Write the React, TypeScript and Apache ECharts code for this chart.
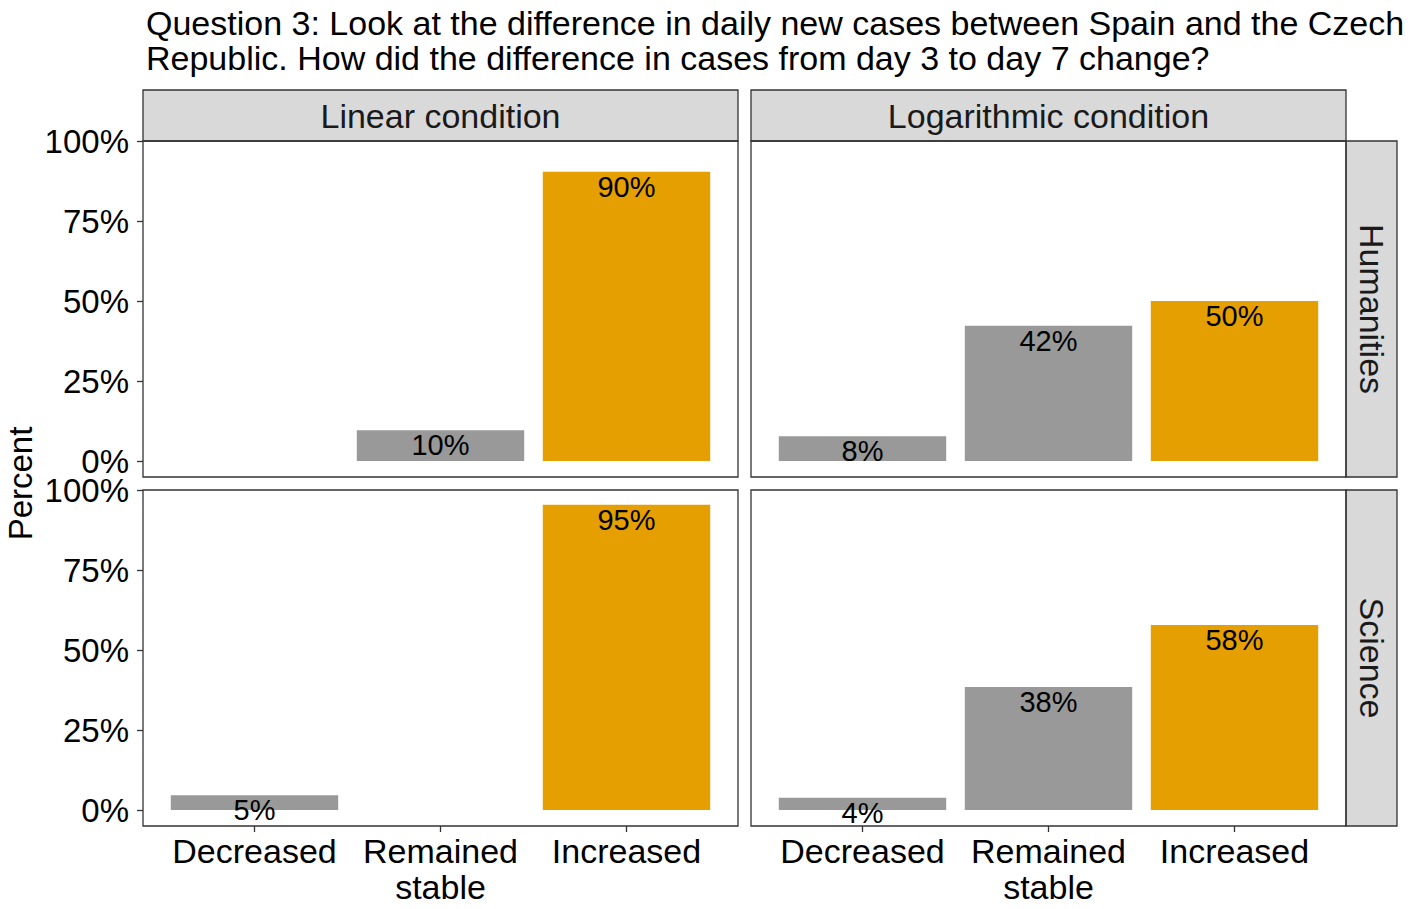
import React, { useEffect, useRef } from 'react';
import * as echarts from 'echarts';

const titleLines = [
  'Question 3: Look at the difference in daily new cases between Spain and the Czech',
  'Republic. How did the difference in cases from day 3 to day 7 change?',
];
const categories = ['Decreased', 'Remained\nstable', 'Increased'];
const conditions = ['Linear condition', 'Logarithmic condition'];
const groups = ['Humanities', 'Science'];
const linearHumanities = [null, 9.6, 90.4];
const logarithmicHumanities = [7.7, 42.3, 50.0];
const linearScience = [4.6, null, 95.4];
const logarithmicScience = [3.8, 38.4, 57.8];
const yTicks = [0, 25, 50, 75, 100];
const yAxisTitle = 'Percent';

const barColors = ['#999999', '#999999', '#E69F00'];
const FONT = "'Liberation Sans', Arial, sans-serif";

const PANEL_LEFT = [143, 751];
const PANEL_TOP = [141, 490];
const PANEL_W = 595;
const PANEL_H = 336;
const GRID_W = 558;
const Y_MIN = -5;
const Y_MAX = 100;
const STRIP_TOP = 90;
const STRIP_H = 51;
const STRIP_RIGHT_X = 1346;
const STRIP_RIGHT_W = 51;

const panels = [
  { row: 0, col: 0, values: linearHumanities },
  { row: 0, col: 1, values: logarithmicHumanities },
  { row: 1, col: 0, values: linearScience },
  { row: 1, col: 1, values: logarithmicScience },
];

export default function App() {
  const ref = useRef<HTMLDivElement>(null);

  useEffect(() => {
    document.body.style.margin = '0';
    if (!ref.current) return;
    const chart = echarts.init(ref.current, undefined, { renderer: 'svg' });
    const xOff = (PANEL_W - GRID_W) / 2;

    const grids = panels.map((p) => ({
      left: PANEL_LEFT[p.col] + xOff,
      top: PANEL_TOP[p.row],
      width: GRID_W,
      height: PANEL_H,
      containLabel: false,
    }));

    const xAxes = panels.map((p, i) => ({
      type: 'category',
      gridIndex: i,
      data: categories,
      show: p.row === 1,
      position: 'bottom',
      axisLine: { show: false, onZero: false },
      axisTick: { show: true, alignWithLabel: true, length: 6, lineStyle: { color: '#333333', width: 1.3 } },
      axisLabel: {
        color: '#000000',
        fontSize: 34,
        lineHeight: 36,
        fontFamily: FONT,
        margin: 7,
        interval: 0,
      },
    }));

    const yAxes = panels.map((p, i) => ({
      type: 'value',
      gridIndex: i,
      min: Y_MIN,
      max: Y_MAX,
      show: p.col === 0,
      offset: xOff,
      splitLine: { show: false },
      axisLine: { show: false, onZero: false },
      axisTick: {
        show: true,
        length: 6,
        customValues: yTicks,
        lineStyle: { color: '#333333', width: 1.3 },
      },
      axisLabel: {
        color: '#000000',
        fontSize: 33,
        fontFamily: FONT,
        margin: 14,
        customValues: yTicks,
        formatter: (v: number) => `${v}%`,
      },
    }));

    const series = panels.map((p, i) => ({
      type: 'bar',
      xAxisIndex: i,
      yAxisIndex: i,
      barCategoryGap: '10%',
      data: p.values.map((v, j) =>
        v == null ? null : { value: v, itemStyle: { color: barColors[j] } }
      ),
      label: {
        show: true,
        position: ['50%', 15],
        align: 'center',
        verticalAlign: 'middle',
        color: '#000000',
        fontSize: 29,
        fontFamily: FONT,
        formatter: (d: any) => `${Math.round(d.value)}%`,
      },
    }));

    const graphic: any[] = [];
    conditions.forEach((c, col) => {
      graphic.push({
        type: 'rect',
        shape: { x: PANEL_LEFT[col], y: STRIP_TOP, width: PANEL_W, height: STRIP_H },
        style: { fill: '#D9D9D9', stroke: '#333333', lineWidth: 1.3 },
        z: 10,
      });
      graphic.push({
        type: 'text',
        x: PANEL_LEFT[col] + PANEL_W / 2,
        y: STRIP_TOP + STRIP_H / 2,
        style: { text: c, fill: '#1a1a1a', fontSize: 34, fontFamily: FONT, align: 'center', verticalAlign: 'middle' },
        z: 11,
      });
    });
    groups.forEach((g, row) => {
      graphic.push({
        type: 'rect',
        shape: { x: STRIP_RIGHT_X, y: PANEL_TOP[row], width: STRIP_RIGHT_W, height: PANEL_H },
        style: { fill: '#D9D9D9', stroke: '#333333', lineWidth: 1.3 },
        z: 10,
      });
      graphic.push({
        type: 'text',
        x: STRIP_RIGHT_X + STRIP_RIGHT_W / 2,
        y: PANEL_TOP[row] + PANEL_H / 2,
        rotation: -Math.PI / 2,
        style: { text: g, fill: '#1a1a1a', fontSize: 34, fontFamily: FONT, align: 'center', verticalAlign: 'middle' },
        z: 11,
      });
    });
    panels.forEach((p) => {
      graphic.push({
        type: 'rect',
        shape: { x: PANEL_LEFT[p.col], y: PANEL_TOP[p.row], width: PANEL_W, height: PANEL_H },
        style: { fill: 'none', stroke: '#333333', lineWidth: 1.3 },
        z: 10,
      });
    });
    graphic.push({
      type: 'text',
      x: 20,
      y: (PANEL_TOP[0] + PANEL_TOP[1] + PANEL_H) / 2,
      rotation: Math.PI / 2,
      style: { text: yAxisTitle, fill: '#000000', fontSize: 33, fontFamily: FONT, align: 'center', verticalAlign: 'middle' },
      z: 11,
    });

    chart.setOption({
      animation: false,
      backgroundColor: '#ffffff',
      title: {
        text: titleLines.join('\n'),
        left: 141,
        top: 0,
        textStyle: { color: '#000000', fontSize: 34, lineHeight: 35, fontWeight: 'normal', fontFamily: FONT },
      },
      grid: grids,
      xAxis: xAxes,
      yAxis: yAxes,
      series,
      graphic,
    });

    return () => chart.dispose();
  }, []);

  return <div ref={ref} style={{ width: 1417, height: 909 }} />;
}
